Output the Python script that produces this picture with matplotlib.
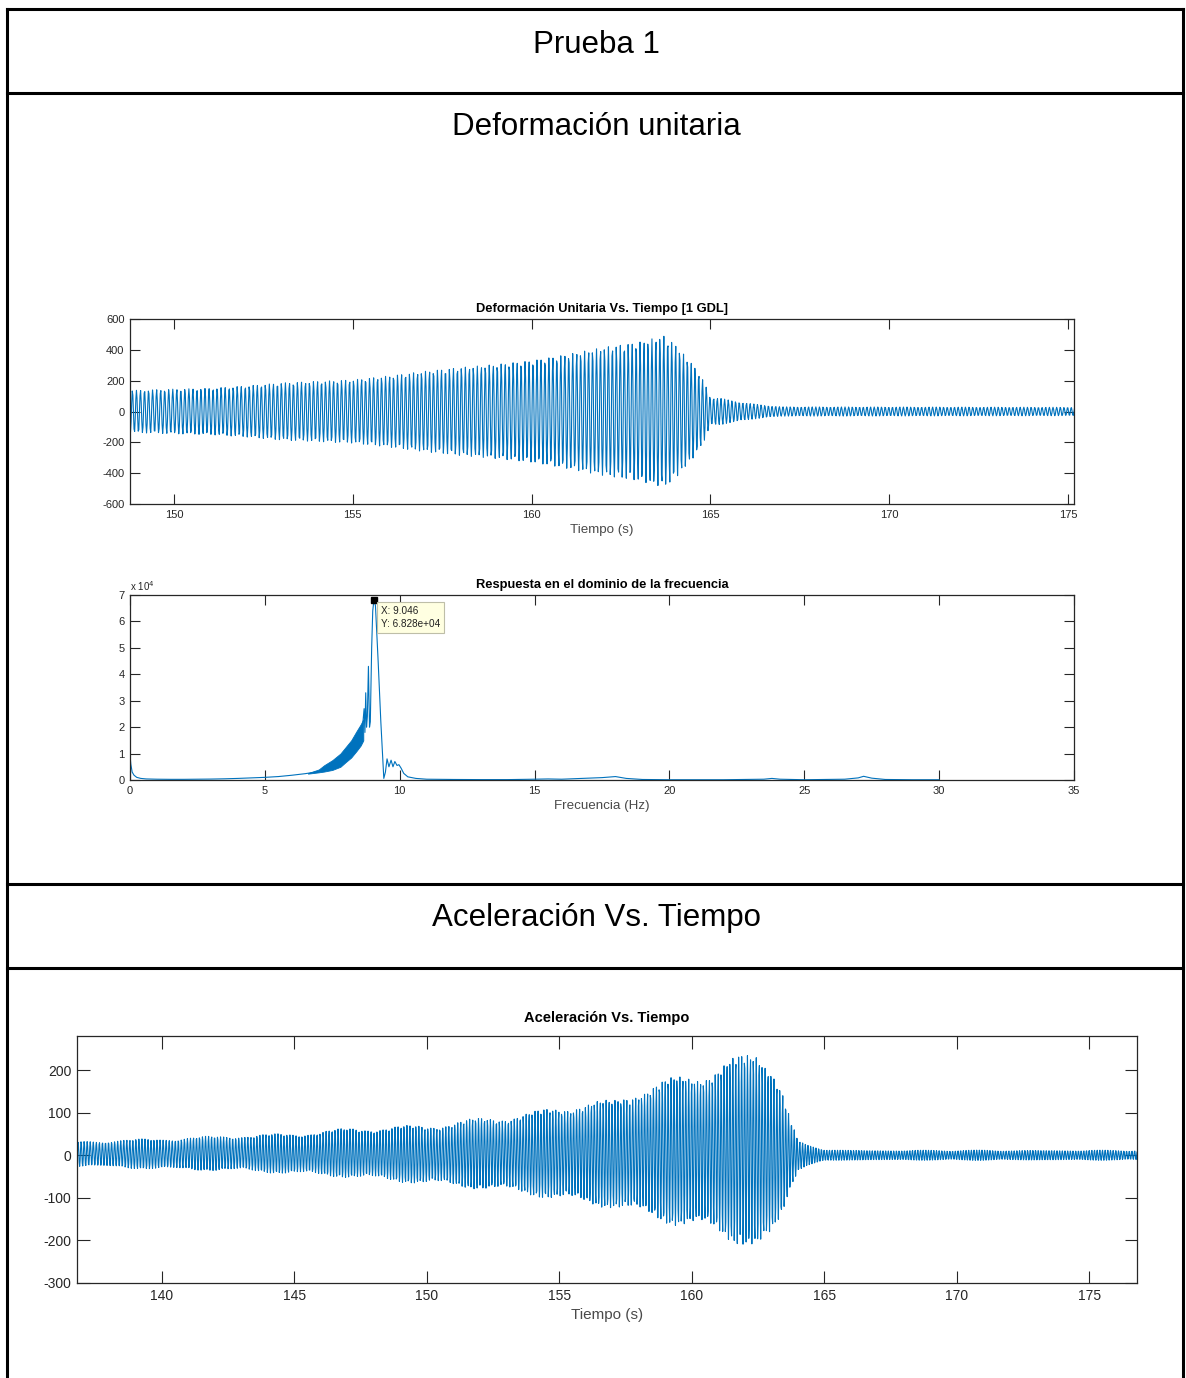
import numpy as np
import matplotlib
matplotlib.use("Agg")
import matplotlib.pyplot as plt
from matplotlib.lines import Line2D
from matplotlib import ticker

plt.rcParams["axes.unicode_minus"] = False

# ---------------- data ----------------
headers = ["Prueba 1", "Deformación unitaria", "Aceleración Vs. Tiempo"]
title1 = "Deformación Unitaria Vs. Tiempo [1 GDL]"
title2 = "Respuesta en el dominio de la frecuencia"
title3 = "Aceleración Vs. Tiempo"
xlabel_t = "Tiempo (s)"
xlabel_f = "Frecuencia (Hz)"

fs = 60.0  # sampling rate of the records (Hz)

# strain record: envelope knots
strain_env_t = [148.6, 150, 151, 152, 153, 154, 155, 156, 157, 158, 159, 160, 161, 162,
                163, 163.7, 164.0, 164.3, 164.6, 164.85, 165.0, 165.3, 165.6, 166.0,
                166.5, 167.0, 175.3]
strain_env_a = [135, 145, 150, 165, 185, 195, 205, 230, 260, 285, 305, 330, 370, 415,
                450, 490, 440, 360, 280, 180, 90, 85, 70, 55, 40, 30, 27]
strain_freq_t = [148.6, 164.0, 165.2, 175.3]
strain_freq_f = [8.85, 9.05, 9.8, 9.8]

# acceleration record: upper / lower envelope knots
accel_env_t = [136.6, 140, 143, 145, 147, 150, 152, 154, 155.7, 157, 158, 159, 160, 161,
               162, 162.5, 163.0, 163.4, 163.7, 164.0, 164.3, 165.0, 166.0, 177.0]
accel_env_up = [33, 40, 48, 52, 64, 72, 88, 103, 126, 130, 162, 178, 198, 213,
                241, 258, 225, 162, 91, 36, 25, 15, 12, 12]
accel_env_lo = [-26, -34, -38, -45, -53, -69, -80, -96, -116, -125, -145, -160, -176, -192,
                -216, -235, -212, -153, -82, -38, -25, -15, -12, -12]
accel_freq_t = [136.6, 163.5, 164.5, 177.0]
accel_freq_f = [8.7, 9.05, 9.9, 9.9]

# frequency spectrum
spec_f = [0.0, 0.03, 0.08, 0.15, 0.25, 0.4, 0.6, 1.0, 1.5, 2.0, 2.5, 3.0, 3.5, 4.0, 4.5,
          5.0, 5.5, 6.0, 6.5, 7.0, 7.5, 8.0, 8.5, 8.62, 8.68, 8.71, 8.74, 8.77, 8.80,
          8.84, 8.88, 8.91, 8.96, 9.00, 9.046, 9.10, 9.20, 9.30, 9.41, 9.47, 9.53, 9.60,
          9.68, 9.75, 9.82, 9.90, 9.97, 10.05, 10.15, 10.3, 10.6, 11.0, 12.0, 13.0, 14.0,
          15.0, 15.5, 16.0, 16.5, 17.0, 17.5, 18.0, 18.4, 19.0, 20.0, 22.0, 23.5, 23.8,
          24.1, 25.0, 26.5, 27.0, 27.2, 27.5, 28.0, 29.0, 30.0]
spec_y = [9500, 6000, 3000, 1800, 1000, 600, 400, 300, 250, 250, 300, 350, 450, 600, 800,
          1000, 1300, 1800, 2400, 3200, 5200, 9000, 15000, 20000, 27000, 18000, 33000,
          20000, 24000, 43000, 20000, 22000, 50000, 64000, 68280, 66000, 45000, 22000,
          600, 3000, 8000, 5000, 7500, 5000, 7000, 5500, 5800, 4500, 2500, 1200, 600, 300,
          200, 150, 150, 300, 400, 300, 500, 700, 900, 1300, 600, 200, 100, 100, 300, 600,
          300, 100, 300, 800, 1400, 700, 200, 100, 100]
band_f = [6.6, 7.0, 7.2, 7.5, 7.8, 8.0, 8.2, 8.4, 8.55, 8.65]
band_lo = [2400, 2900, 3200, 3800, 5000, 6800, 8500, 11000, 13000, 15000]
band_hi = [2600, 4000, 5600, 7500, 10000, 12500, 15000, 18500, 21000, 23000]

peak_f = 9.046
peak_y = 6.828e4

x1_ticks = [150, 155, 160, 165, 170, 175]
y1_ticks = [-600, -400, -200, 0, 200, 400, 600]
x2_ticks = [0, 5, 10, 15, 20, 25, 30, 35]
y2_ticks = [0, 1e4, 2e4, 3e4, 4e4, 5e4, 6e4, 7e4]
x3_ticks = [140, 145, 150, 155, 160, 165, 170, 175]
y3_ticks = [-300, -200, -100, 0, 100, 200]

# ---------------- figure ----------------
W, H = 1186, 1378
fig = plt.figure(figsize=(W / 100, H / 100), dpi=100)
fig.patch.set_facecolor("white")

SANS = ["Liberation Sans", "DejaVu Sans"]
LINE = "#0072BD"
AXC = "#262626"


def fx(px):
    return px / W


def fy(py):
    return 1 - py / H


# table borders
for (x0, y0, x1, y1) in [(7, 9, 1183, 9), (7, 93, 1183, 93), (7, 884, 1183, 884),
                         (7, 968, 1183, 968), (7, 9, 7, 1378), (1183, 9, 1183, 1378)]:
    fig.add_artist(Line2D([fx(x0), fx(x1)], [fy(y0), fy(y1)], color="black", lw=2.2,
                          transform=fig.transFigure, solid_capstyle="projecting"))

for txt, py in zip(headers, [45, 127, 918]):
    fig.text(fx(596), fy(py), txt, ha="center", va="center", fontsize=22.5, family=SANS,
             color="black")


def axes_px(l, t, r, b):
    return fig.add_axes([fx(l), fy(b), fx(r) - fx(l), fy(t) - fy(b)])


def style(ax, size, ticklen):
    for s in ax.spines.values():
        s.set_color(AXC)
        s.set_linewidth(0.9)
    ax.tick_params(direction="in", length=ticklen, width=0.8, colors=AXC, top=True,
                   right=True, labelsize=size, pad=4)
    for lab in ax.get_xticklabels() + ax.get_yticklabels():
        lab.set_family(SANS)


# ---- strain vs time ----
ax1 = axes_px(130, 319, 1074, 504)
t1 = np.arange(strain_env_t[0], strain_env_t[-1], 1 / fs)
ph1 = 2 * np.pi * np.cumsum(np.interp(t1, strain_freq_t, strain_freq_f)) / fs
y1 = np.interp(t1, strain_env_t, strain_env_a) * np.sin(ph1)
ax1.plot(t1, y1, color=LINE, lw=0.8)
ax1.set_xlim(148.77, 175.17)
ax1.set_ylim(-600, 600)
ax1.set_xticks(x1_ticks)
ax1.set_yticks(y1_ticks)
style(ax1, 8, 7)
ax1.set_title(title1, fontsize=9.3, fontweight="bold", family=SANS, pad=5, color="black")
ax1.set_xlabel(xlabel_t, fontsize=9.6, family=SANS, color="#4a4a4a", labelpad=3)

# ---- spectrum ----
ax2 = axes_px(130, 595, 1074, 780)
ax2.fill_between(band_f, band_lo, band_hi, color=LINE, lw=0.6)
ax2.plot(spec_f, spec_y, color=LINE, lw=0.8)
ax2.plot([peak_f], [peak_y], marker="s", color="black", ms=5, zorder=5)
ax2.text(9.3, 65800, f"X: {peak_f:.3f}\nY: {peak_y:.3e}",
         ha="left", va="top", fontsize=7.2, family=SANS, color="#222222", zorder=6,
         bbox=dict(boxstyle="square,pad=0.4", fc="#FFFFE1", ec="#BEBEA8", lw=0.8),
         linespacing=1.3)
ax2.set_xlim(0, 35)
ax2.set_ylim(0, 7e4)
ax2.set_xticks(x2_ticks)
ax2.set_yticks(y2_ticks)
ax2.yaxis.set_major_formatter(ticker.FuncFormatter(lambda v, p: f"{v / 1e4:g}"))
style(ax2, 8, 7)
ax2.text(0.0, 1.012, r"x 10$^{4}$", transform=ax2.transAxes, ha="left", va="bottom",
         fontsize=7, family=SANS, color=AXC)
ax2.set_title(title2, fontsize=9.3, fontweight="bold", family=SANS, pad=5, color="black")
ax2.set_xlabel(xlabel_f, fontsize=9.6, family=SANS, color="#4a4a4a", labelpad=3)

# ---- acceleration vs time ----
ax3 = axes_px(77, 1036, 1137, 1283)
t3 = np.arange(accel_env_t[0], accel_env_t[-1], 1 / fs)
f3 = np.interp(t3, accel_freq_t, accel_freq_f)
ph3a = 2 * np.pi * np.cumsum(f3) / fs
ph3b = 2 * np.pi * np.cumsum(f3 * 1.045) / fs
up = np.interp(t3, accel_env_t, accel_env_up)
lo = np.interp(t3, accel_env_t, accel_env_lo)
y3 = (up + lo) / 2 + (up - lo) / 2 * (0.92 * np.sin(ph3a) + 0.08 * np.sin(ph3b))
ax3.plot(t3, y3, color=LINE, lw=0.8)
ax3.set_xlim(136.8, 176.8)
ax3.set_ylim(-300, 280)
ax3.set_xticks(x3_ticks)
ax3.set_yticks(y3_ticks)
style(ax3, 10, 9)
ax3.set_title(title3, fontsize=10.5, fontweight="bold", family=SANS, pad=10,
              color="black")
ax3.set_xlabel(xlabel_t, fontsize=11, family=SANS, color="#4a4a4a", labelpad=4)

fig.savefig("out.png", dpi=100, facecolor="white")
